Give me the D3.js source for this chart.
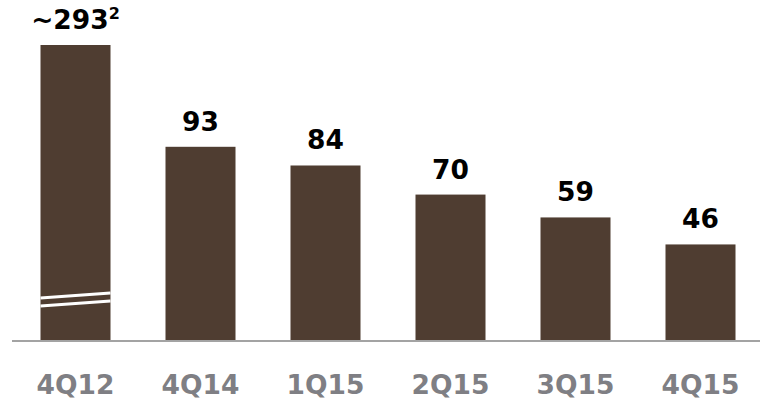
<!DOCTYPE html>
<html><head><meta charset="utf-8">
<script src="https://cdn.jsdelivr.net/npm/d3@7"></script>
<style>body{margin:0;background:#fff}svg{display:block}</style>
</head><body>
<svg id="c" width="760" height="400"></svg>
<script>
const categories = ["4Q12","4Q14","1Q15","2Q15","3Q15","4Q15"];
const values = [293, 93, 84, 70, 59, 46];
const valueLabels = ["~293","93","84","70","59","46"];
const footnotes = ["2","","","","",""];
const brokenCap = [142, null, null, null, null, null]; // drawn height of the broken (off-scale) bar

const svg = d3.select("#c");
const x = d3.scaleBand().domain(categories).range([13,763]).paddingInner(0.44).paddingOuter(0.22);
const y = d3.scaleLinear().domain([0,142]).range([340,45]);
const font = "'DejaVu Sans', 'Open Sans', sans-serif";
const barColor = "#4f3d31";

const data = categories.map((c,i)=>({c, v:values[i], shown: brokenCap[i] ?? values[i], lab:valueLabels[i], fn:footnotes[i], broken: brokenCap[i]!=null}));

svg.selectAll("rect.bar").data(data).join("rect").attr("class","bar")
  .attr("x",d=>x(d.c)).attr("width",x.bandwidth())
  .attr("y",d=>y(d.shown)).attr("height",d=>y(0)-y(d.shown))
  .attr("fill",barColor);

// break marks
data.filter(d=>d.broken).forEach(d=>{
  const x0 = x(d.c), x1 = x0 + x.bandwidth();
  [[298,293],[306,301]].forEach(([yl,yr])=>{
    svg.append("line").attr("x1",x0).attr("x2",x1).attr("y1",yl).attr("y2",yr)
      .attr("stroke","#fff").attr("stroke-width",3);
  });
});

// baseline
svg.append("line").attr("x1",12).attr("x2",760).attr("y1",y(0)+1).attr("y2",y(0)+1)
  .attr("stroke","#a3a3a3").attr("stroke-width",2);

// value labels
const vt = svg.selectAll("text.val").data(data).join("text").attr("class","val")
  .attr("x",d=>x(d.c)+x.bandwidth()/2).attr("y",d=>y(d.shown)-16)
  .attr("text-anchor","middle").attr("font-family",font).attr("font-weight","bold")
  .attr("font-size",26.5).attr("fill","#000");
vt.append("tspan").text(d=>d.lab);
vt.filter(d=>d.fn).append("tspan").attr("font-size",16).attr("dy",-10).text(d=>d.fn);

// category labels
svg.selectAll("text.cat").data(data).join("text").attr("class","cat")
  .attr("x",d=>x(d.c)+x.bandwidth()/2).attr("y",394)
  .attr("text-anchor","middle").attr("font-family",font).attr("font-weight","bold")
  .attr("font-size",26.5).attr("fill","#7f7f84").text(d=>d.c);
</script>
</body></html>
